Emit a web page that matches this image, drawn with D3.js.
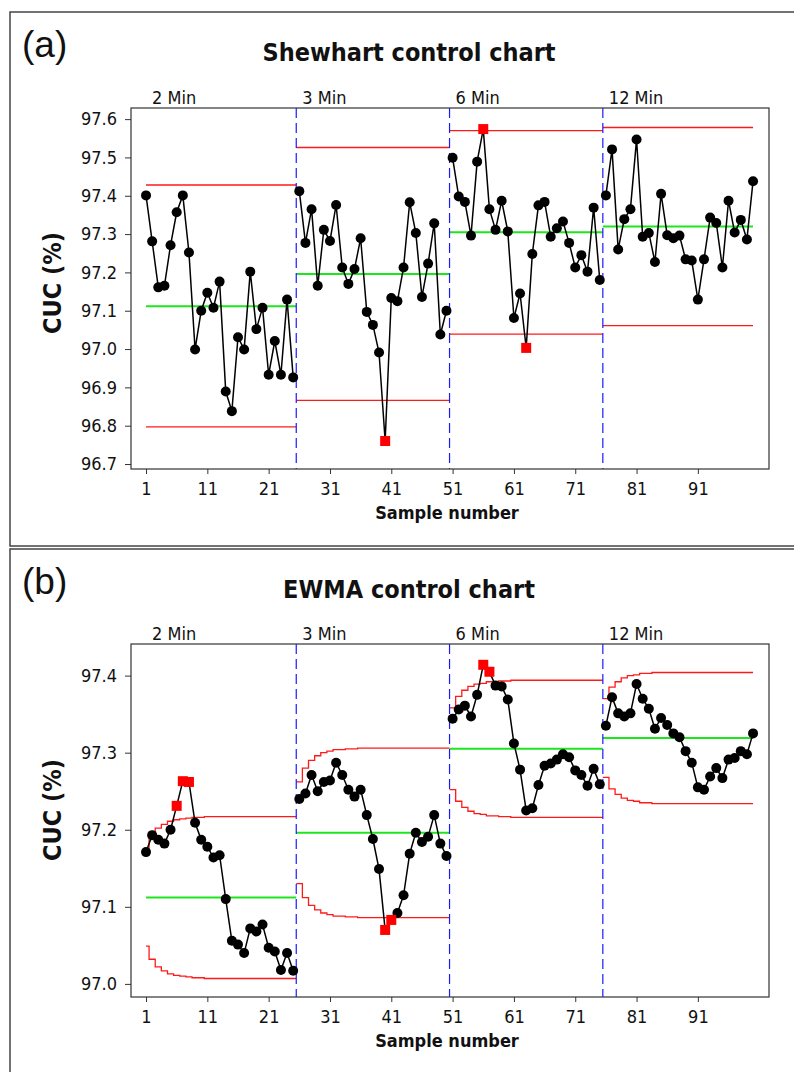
<!DOCTYPE html>
<html>
<head>
<meta charset="utf-8">
<script src="https://cdn.jsdelivr.net/npm/d3@7"></script>
<style>
    body { margin: 0; background: #fff; }
    text { font-family: "DejaVu Sans Condensed", "DejaVu Sans", sans-serif; font-stretch: condensed; fill: #111; }
</style>
</head>
<body>
<div id="chart"></div>
<script>
// Stages (production time) and sample axis
const stageNames = ["2 Min", "3 Min", "6 Min", "12 Min"];
const stageFirst = [1, 26, 51, 76];
const stageBounds = [25.5, 50.5, 75.5];
const lastSample = 100;
const xTicks = [1, 11, 21, 31, 41, 51, 61, 71, 81, 91];

// (a) Shewhart chart
const shewhartTicks = [96.7, 96.8, 96.9, 97.0, 97.1, 97.2, 97.3, 97.4, 97.5, 97.6];
const shewhartValues = [
    97.401, 97.281, 97.161, 97.165, 97.271, 97.357, 97.401, 97.252, 96.999, 97.100,
    97.147, 97.108, 97.176, 96.889, 96.838, 97.031, 96.999, 97.202, 97.052, 97.108,
    96.933, 97.021, 96.933, 97.129, 96.926,
    97.412, 97.277, 97.365, 97.165, 97.311, 97.282, 97.376, 97.213, 97.170, 97.209,
    97.289, 97.097, 97.063, 96.991, 96.760, 97.133, 97.125, 97.213, 97.383, 97.303,
    97.136, 97.223, 97.328, 97.038, 97.100,
    97.499, 97.398, 97.384, 97.296, 97.489, 97.574, 97.365, 97.311, 97.387, 97.307,
    97.081, 97.145, 97.003, 97.248, 97.375, 97.384, 97.293, 97.315, 97.333, 97.277,
    97.213, 97.245, 97.202, 97.369, 97.180,
    97.401, 97.521, 97.260, 97.339, 97.365, 97.547, 97.293, 97.303, 97.227, 97.405,
    97.297, 97.289, 97.296, 97.234, 97.231, 97.129, 97.234, 97.343, 97.329, 97.213,
    97.387, 97.304, 97.337, 97.286, 97.438
];
const shewhartCL = [97.112, 97.196, 97.305, 97.320];
const shewhartUCL = [97.428, 97.526, 97.570, 97.578];
const shewhartLCL = [96.797, 96.866, 97.039, 97.061];
const shewhartFlags = [40, 56, 63];

// (b) EWMA chart
const ewmaTicks = [97.0, 97.1, 97.2, 97.3, 97.4];
const ewmaValues = [
    97.171, 97.193, 97.187, 97.182, 97.200, 97.231, 97.263, 97.262, 97.209, 97.187,
    97.178, 97.164, 97.167, 97.110, 97.056, 97.051, 97.040, 97.072, 97.068, 97.077,
    97.047, 97.042, 97.018, 97.040, 97.017,
    97.240, 97.247, 97.271, 97.250, 97.262, 97.264, 97.287, 97.271, 97.252, 97.243,
    97.252, 97.219, 97.188, 97.149, 97.070, 97.083, 97.092, 97.115, 97.169, 97.196,
    97.184, 97.191, 97.219, 97.182, 97.166,
    97.344, 97.356, 97.361, 97.347, 97.375, 97.414, 97.405, 97.387, 97.386, 97.369,
    97.312, 97.278, 97.225, 97.228, 97.258, 97.283, 97.286, 97.291, 97.298, 97.294,
    97.277, 97.271, 97.257, 97.279, 97.259,
    97.335, 97.372, 97.351, 97.347, 97.351, 97.389, 97.370, 97.357, 97.331, 97.345,
    97.336, 97.325, 97.320, 97.302, 97.287, 97.255, 97.252, 97.269, 97.280, 97.267,
    97.291, 97.293, 97.302, 97.298, 97.325
];
const ewmaCL = [97.112, 97.196, 97.305, 97.319];
// step values at the start of each stage; the last value holds to the stage end
const ewmaUCL = [
    [97.175, 97.192, 97.202, 97.207, 97.211, 97.213, 97.214, 97.215, 97.216, 97.216, 97.217],
    [97.262, 97.280, 97.290, 97.296, 97.300, 97.302, 97.304, 97.304, 97.305, 97.305, 97.306],
    [97.358, 97.373, 97.381, 97.386, 97.389, 97.390, 97.392, 97.392, 97.393, 97.393, 97.394],
    [97.370, 97.385, 97.392, 97.397, 97.400, 97.401, 97.403, 97.403, 97.404, 97.404, 97.404]
];
const ewmaLCL = [
    [97.049, 97.032, 97.022, 97.017, 97.013, 97.011, 97.010, 97.009, 97.008, 97.008, 97.007],
    [97.130, 97.112, 97.102, 97.096, 97.092, 97.090, 97.088, 97.088, 97.087, 97.087, 97.086],
    [97.252, 97.237, 97.229, 97.224, 97.221, 97.220, 97.218, 97.218, 97.217, 97.217, 97.216],
    [97.268, 97.253, 97.246, 97.241, 97.238, 97.237, 97.235, 97.235, 97.234, 97.234, 97.234]
];
const ewmaFlags = [6, 7, 8, 40, 41, 56, 57];

class ControlChart {
    constructor(svg, config) {
        this.svg = svg;
        this.config = config;
        this.initVis();
    }

    initVis() {
        let vis = this;
        const c = vis.config;

        vis.g = vis.svg.append("g");

        // panel frame
        vis.g.append("rect")
            .attr("x", 10)
            .attr("y", c.boxTop)
            .attr("width", 800)
            .attr("height", c.boxBottom - c.boxTop)
            .attr("fill", "none")
            .attr("stroke", "#444")
            .attr("stroke-width", 1.5);

        // scales
        vis.x = d3.scaleLinear().domain([-1.45, 102.6]).range([131, 769]);
        vis.y = d3.scaleLinear().domain(c.yDomain).range([c.bottom, c.top]);

        // panel letter and title
        vis.g.append("text")
            .attr("x", 22)
            .attr("y", c.boxTop + 45)
            .style("font-family", "Liberation Sans, Arial, sans-serif")
            .style("font-stretch", "normal")
            .style("font-size", "37px")
            .text(c.letter);

        vis.g.append("text")
            .attr("x", 409)
            .attr("y", c.boxTop + 49)
            .attr("text-anchor", "middle")
            .style("font-size", "25px")
            .style("font-weight", "bold")
            .text(c.title);

        // axes
        const yAxis = d3.axisLeft(vis.y)
            .tickValues(c.yTicks)
            .tickFormat(d3.format(".1f"))
            .tickSize(6)
            .tickPadding(8);

        const xAxis = d3.axisBottom(vis.x)
            .tickValues(xTicks)
            .tickSize(5)
            .tickPadding(8);

        vis.g.append("g")
            .attr("class", "axis y-axis")
            .attr("transform", "translate(131,0)")
            .call(yAxis);

        vis.g.append("g")
            .attr("class", "axis x-axis")
            .attr("transform", `translate(0,${c.bottom})`)
            .call(xAxis);

        vis.g.selectAll(".axis .domain").remove();
        vis.g.selectAll(".axis text")
            .style("font-family", "DejaVu Sans Condensed, DejaVu Sans, sans-serif")
            .style("font-stretch", "condensed")
            .style("font-size", "18px")
            .attr("fill", "#111");
        vis.g.selectAll(".axis line").attr("stroke", "#333");

        // axis labels
        vis.g.append("text")
            .attr("transform", `translate(61,${c.yLabelCenter}) rotate(-90)`)
            .attr("text-anchor", "middle")
            .style("font-size", "25px")
            .style("font-weight", "bold")
            .text("CUC (%)");

        vis.g.append("text")
            .attr("x", 447)
            .attr("y", c.bottom + 50)
            .attr("text-anchor", "middle")
            .style("font-size", "18px")
            .style("font-weight", "bold")
            .text("Sample number");

        vis.drawLimits();
        vis.drawStages();
        vis.drawPoints();

        // plot frame on top
        vis.g.append("rect")
            .attr("x", 131)
            .attr("y", c.top)
            .attr("width", 769 - 131)
            .attr("height", c.bottom - c.top)
            .attr("fill", "none")
            .attr("stroke", "#333")
            .attr("stroke-width", 1.2);
    }

    stageSpan(k) {
        const start = k === 0 ? stageFirst[0] : stageBounds[k - 1];
        const end = k === stageNames.length - 1 ? lastSample : stageBounds[k];
        return [start, end];
    }

    drawLimits() {
        let vis = this;
        const c = vis.config;

        stageNames.forEach((name, k) => {
            const [start, end] = vis.stageSpan(k);

            vis.g.append("line")
                .attr("x1", vis.x(start)).attr("x2", vis.x(end))
                .attr("y1", vis.y(c.cl[k])).attr("y2", vis.y(c.cl[k]))
                .attr("stroke", "#1ee61e")
                .attr("stroke-width", 2);

            if (c.stepLimits) {
                const line = d3.line()
                    .x(d => vis.x(d.s))
                    .y(d => vis.y(d.v))
                    .curve(d3.curveStep);

                [c.ucl[k], c.lcl[k]].forEach(steps => {
                    const pts = [];
                    if (k > 0) pts.push({s: start, v: steps[0]});
                    const last = k === stageNames.length - 1 ? lastSample : stageFirst[k + 1] - 1;
                    for (let s = stageFirst[k]; s <= last; s++) {
                        const i = Math.min(s - stageFirst[k], steps.length - 1);
                        pts.push({s: s, v: steps[i]});
                    }
                    pts.push({s: end, v: steps[steps.length - 1]});

                    vis.g.append("path")
                        .datum(pts)
                        .attr("fill", "none")
                        .attr("stroke", "#ff1a1a")
                        .attr("stroke-width", 1.3)
                        .attr("d", line);
                });
            } else {
                [c.ucl[k], c.lcl[k]].forEach(v => {
                    vis.g.append("line")
                        .attr("x1", vis.x(start)).attr("x2", vis.x(end))
                        .attr("y1", vis.y(v)).attr("y2", vis.y(v))
                        .attr("stroke", "#ff1a1a")
                        .attr("stroke-width", 1.4);
                });
            }
        });
    }

    drawStages() {
        let vis = this;
        const c = vis.config;

        vis.g.selectAll(".stage-line")
            .data(stageBounds)
            .join("line")
            .attr("class", "stage-line")
            .attr("x1", d => vis.x(d)).attr("x2", d => vis.x(d))
            .attr("y1", c.top).attr("y2", c.bottom)
            .attr("stroke", "#1a1aff")
            .attr("stroke-width", 1.2)
            .attr("stroke-dasharray", "10,5");

        vis.g.selectAll(".stage-label")
            .data(stageNames)
            .join("text")
            .attr("class", "stage-label")
            .attr("x", (d, i) => vis.x(i === 0 ? stageFirst[0] : stageBounds[i - 1]) + 6)
            .attr("y", c.top - 4)
            .style("font-size", "18px")
            .text(d => d);
    }

    drawPoints() {
        let vis = this;
        const c = vis.config;

        const data = c.values.map((v, i) => ({s: i + 1, v: v, flag: c.flags.includes(i + 1)}));

        // one connected line per stage
        const line = d3.line().x(d => vis.x(d.s)).y(d => vis.y(d.v));
        stageNames.forEach((name, k) => {
            const last = k === stageNames.length - 1 ? lastSample : stageFirst[k + 1] - 1;
            vis.g.append("path")
                .datum(data.filter(d => d.s >= stageFirst[k] && d.s <= last))
                .attr("fill", "none")
                .attr("stroke", "#000")
                .attr("stroke-width", 1.5)
                .attr("d", line);
        });

        vis.g.selectAll(".pt")
            .data(data.filter(d => !d.flag))
            .join("circle")
            .attr("class", "pt")
            .attr("cx", d => vis.x(d.s))
            .attr("cy", d => vis.y(d.v))
            .attr("r", 5)
            .attr("fill", "#000");

        vis.g.selectAll(".flag")
            .data(data.filter(d => d.flag))
            .join("rect")
            .attr("class", "flag")
            .attr("x", d => vis.x(d.s) - 5)
            .attr("y", d => vis.y(d.v) - 5)
            .attr("width", 10)
            .attr("height", 10)
            .attr("fill", "#ff0000");
    }
}

const svg = d3.select("#chart")
    .append("svg")
    .attr("width", 794)
    .attr("height", 1072)
    .style("display", "block")
    .style("background", "#fff");

new ControlChart(svg, {
    letter: "(a)",
    title: "Shewhart control chart",
    boxTop: 12, boxBottom: 546,
    top: 108, bottom: 469,
    yDomain: [96.687, 97.629],
    yTicks: shewhartTicks,
    yLabelCenter: 283,
    values: shewhartValues,
    flags: shewhartFlags,
    cl: shewhartCL, ucl: shewhartUCL, lcl: shewhartLCL,
    stepLimits: false
});

new ControlChart(svg, {
    letter: "(b)",
    title: "EWMA control chart",
    boxTop: 549, boxBottom: 1080,
    top: 644, bottom: 997,
    yDomain: [96.983, 97.441],
    yTicks: ewmaTicks,
    yLabelCenter: 810,
    values: ewmaValues,
    flags: ewmaFlags,
    cl: ewmaCL, ucl: ewmaUCL, lcl: ewmaLCL,
    stepLimits: true
});
</script>
</body>
</html>
